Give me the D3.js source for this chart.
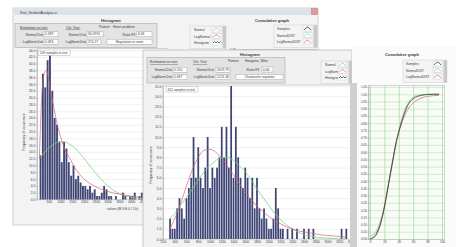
<!DOCTYPE html>
<html><head><meta charset="utf-8">
<script src="https://cdn.jsdelivr.net/npm/d3@7"></script>
<style>html,body{margin:0;padding:0;background:#fff}svg{display:block}</style>
</head><body><svg id="c" width="456" height="247"></svg>
<script>
// ---------- DATA ----------
// Window 1 histogram (bin starts, counts)
const hist1Start = d3.range(100, 4500, 100);
const hist1Count = [13,37,33,41,43,32,24,22,17,11,17,15,11,7,10,6,7,5,4,4,3,4,2,3,1,1,2,4,3,1,1,0,1,0,0,2,1,0,1,1,2,0,1,2];
const hist1Width = 100;
const normal1X = [100,300,500,700,900,1100,1300,1500,1700,1900,2100,2300,2500,2700,2900,3100,3300,3500,3700,3900,4100,4300,4500];
const normal1Y = [12.1,13.7,15.2,16.2,16.9,17.0,16.6,15.7,14.5,12.9,11.2,9.4,7.7,6.1,4.7,3.5,2.5,1.8,1.2,0.8,0.5,0.3,0.2];
const logn1X = [100,200,300,400,500,600,700,800,900,1000,1200,1400,1600,1800,2000,2300,2600,2900,3200,3500,3800,4100,4500];
const logn1Y = [12,30,37,38,35,31,27.5,24,21,18.5,14.5,12,9.5,7.5,6,4.5,3.4,2.6,2,1.6,1.2,0.9,0.6];
const y1Ticks = d3.range(0, 45, 2);
const x1Ticks = [500,1000,1500,2000,2500,3000,3500,4000,4500];

// Window 2 histogram
const hist2Start = d3.range(300, 3340, 40);
const hist2Count = [2,1,1,3,4,3,2,4,5,6, 10,6,9,6,5,7,10,5,7,6, 7,8,11,8,11,7,15,6,11,8, 6,5,7,6,4,6,3,6,3,2, 3,2,1,1,2,5,3,1,1,0, 1,0,1,0,1,0,0,1,0,1, 0,1,0,0,0,0,0,0,0,0, 0,0,0,1,0,1];
const hist2Width = 40;
const curve2X = d3.range(300, 3400, 100);
const normal2Y = [1.9,2.5,3.3,4.1,4.9,5.8,6.6,7.2,7.7,8.0,8.0,7.7,7.2,6.6,5.8,4.9,4.1,3.3,2.5,1.9,1.4,1.0,0.7,0.4,0.3,0.2,0.1,0.1,0.05,0,0];
const logn2Y = [0.8,2.0,3.5,5.2,6.8,8.0,8.7,8.8,8.5,7.9,7.1,6.3,5.4,4.6,3.9,3.2,2.7,2.2,1.8,1.5,1.2,1.0,0.8,0.7,0.6,0.5,0.4,0.35,0.3,0.25,0.2];
const y2Ticks = d3.range(0, 16, 1);
const x2Ticks = d3.range(200, 3600, 200);

// Window 3 cumulative graph
const cumX = [0,4,8,12,16,20,24,28,32,36,40,44,48,52,56,60,66,72,80,88,96];
const samplesY = [0,0.01,0.03,0.07,0.13,0.22,0.33,0.44,0.55,0.66,0.74,0.81,0.87,0.92,0.95,0.97,0.985,0.993,0.998,1.0,1.0];
const normalCumY = [0.02,0.03,0.05,0.09,0.15,0.23,0.33,0.44,0.55,0.65,0.75,0.83,0.89,0.93,0.96,0.98,0.993,0.998,1.0,1.0,1.0];
const lognCumY = [0,0.005,0.02,0.06,0.13,0.22,0.33,0.45,0.56,0.66,0.74,0.80,0.85,0.89,0.92,0.94,0.96,0.975,0.985,0.99,0.993];
const y3Ticks = d3.range(0, 22).map(i => i * 0.05);
const x3Ticks = [0,20,40,60,80,100];

// ---------- HELPERS ----------
const FONT = "'Liberation Sans', Arial, sans-serif";
const svg = d3.select("#c");
const BAR = "#3f4575", GREEN = "#7fd27f", RED = "#d0607a", TXT = "#3a3a3a";
svg.append("rect").attr("width",456).attr("height",247).attr("fill","#fff");

function text(g, x, y, s, o = {}) {
  const t = g.append("text").attr("x", x).attr("y", y).text(s)
    .attr("font-family", FONT).attr("font-size", o.size || 3.6)
    .attr("fill", o.fill || TXT).attr("text-anchor", o.anchor || "start");
  if (o.bold) t.attr("font-weight", "bold");
  if (o.underline) t.attr("text-decoration", "underline");
  if (o.rotate) t.attr("transform", `rotate(-90,${x},${y})`);
  return t;
}
function rect(g, x, y, w, h, fill, stroke, sw) {
  return g.append("rect").attr("x", x).attr("y", y).attr("width", w).attr("height", h)
    .attr("fill", fill).attr("stroke", stroke || "none").attr("stroke-width", sw || 0.5);
}
function field(g, x, y, w, h, val) {
  rect(g, x, y, w, h, "#fff", "#9a9a9a", 0.4);
  text(g, x + 1, y + h - 1.4, val, { size: 3.3 });
}
function legend(g, x, y, w, items, textX) {
  const h = items.length * 6.5 + 3;
  rect(g, x, y, w, h, "#f4f4f4", "#c4c4c4", 0.4);
  rect(g, x + w - 3.5, y, 3.5, h, "#c8c8c8");
  items.forEach((it, i) => {
    const yy = y + 5 + i * 6.5;
    text(g, textX, yy, it.label, { size: 3.3 });
    const ix = x + w - 14, iy = yy - 4;
    rect(g, ix, iy, 9, 5, "#fff", "#b0b0b0", 0.3);
    const p = it.wave ? `M${ix+1},${iy+3} l1.5,-1.5 l1.5,1.5 l1.5,-1.5 l1.5,1.5 l1.5,-1.5`
                      : `M${ix+1},${iy+4} Q${ix+4.5},${iy-1.5} ${ix+8},${iy+4}`;
    g.append("path").attr("d", p).attr("fill", "none").attr("stroke", it.color).attr("stroke-width", 0.7);
  });
}
function styleAxis(a, size) {
  a.selectAll("text").attr("font-family", FONT).attr("font-size", size || 3.3).attr("fill", TXT);
  a.selectAll("path").attr("stroke", "#888").attr("stroke-width", 0.4);
  a.selectAll("line").attr("stroke", "#888").attr("stroke-width", 0.4);
}

// ---------- WINDOW 1 ----------
const w1 = svg.append("g");
rect(w1, 13, 8, 305, 217, "#f3f3f3", "#b4b4b4", 0.6);
rect(w1, 13, 8, 305, 7, "#dce1ea");
text(w1, 20, 13.5, "Stat_VerdeelAnalyse.vi", { size: 3.6 });
rect(w1, 311.5, 8.5, 6, 6, "#e39a9a", "#c06060", 0.4);
text(w1, 111, 22, "Histogram", { size: 4, bold: true, anchor: "middle" });
rect(w1, 15, 23.5, 142, 24, "#e3e3e3", "#9c9c9c", 0.5);
text(w1, 20, 28.5, "Estimation on test:", { size: 3.4, underline: true });
text(w1, 66, 28.5, "Chi² Test:", { size: 3.4, underline: true });
text(w1, 99, 27.5, "Patient", { size: 3.4 });
text(w1, 113, 27.5, "Heart problem", { size: 3.4 });
text(w1, 43, 35.5, "Normal Dist", { size: 3.3, anchor: "end" });
field(w1, 44, 31.8, 14, 5, "0.189");
text(w1, 43, 42.8, "LogNorm Dist", { size: 3.3, anchor: "end" });
field(w1, 44, 39.2, 14, 5, "0.494");
text(w1, 86, 35.5, "Normal Dist", { size: 3.3, anchor: "end" });
field(w1, 87, 31.8, 16, 5, "30.0974");
text(w1, 86, 42.8, "LogNorm Dist", { size: 3.3, anchor: "end" });
field(w1, 87, 39.2, 14, 5, "274.17");
text(w1, 135, 35.5, "Ratio F3", { size: 3.3, anchor: "end" });
field(w1, 137, 31.8, 15, 5, "6.66");
rect(w1, 107, 39.2, 45, 5, "#fff", "#9a9a9a", 0.4);
text(w1, 129.5, 42.8, "Regulation in norm", { size: 3.3, anchor: "middle" });
legend(w1, 190, 26, 36, [
  { label: "Normal", color: GREEN }, { label: "LogNormal", color: RED }, { label: "Histogram", color: "#222", wave: true }], 194);
text(w1, 272, 22, "Cumulative graph", { size: 4, bold: true, anchor: "middle" });
legend(w1, 274, 25, 43, [
  { label: "Samples", color: "#222" }, { label: "NormalDIST", color: GREEN }, { label: "LogNormalDIST", color: RED }], 277);
text(w1, 236, 50.5, "1.05", { size: 3.2, anchor: "end" });
w1.append("line").attr("x1", 237).attr("x2", 316).attr("y1", 49.5).attr("y2", 49.5).attr("stroke", "#999").attr("stroke-width", 0.4);

// plot 1
const x1 = d3.scaleLinear().domain([0, 4500]).range([37, 143]);
const y1 = d3.scaleLinear().domain([0, 44]).range([199.5, 50]);
rect(w1, 37, 48.5, 130, 151, "#fff", "#9a9a9a", 0.4);
w1.append("g").attr("transform", "translate(37,0)")
  .call(d3.axisLeft(y1).tickValues(y1Ticks).tickSize(-130).tickFormat(""))
  .call(a => { a.select(".domain").remove(); a.selectAll("line").attr("stroke", "#dadada").attr("stroke-width", 0.4); });
w1.append("g").selectAll("rect").data(hist1Start).join("rect")
  .attr("x", d => x1(d) + 0.25).attr("width", d => x1(d + hist1Width) - x1(d) - 0.5)
  .attr("y", (d, i) => y1(hist1Count[i])).attr("height", (d, i) => y1(0) - y1(hist1Count[i]))
  .attr("fill", BAR);
const line1 = d3.line().x(d => x1(d[0])).y(d => y1(d[1])).curve(d3.curveMonotoneX);
w1.append("path").attr("d", line1(d3.zip(normal1X, normal1Y))).attr("fill", "none").attr("stroke", GREEN).attr("stroke-width", 0.8);
w1.append("path").attr("d", line1(d3.zip(logn1X, logn1Y))).attr("fill", "none").attr("stroke", RED).attr("stroke-width", 0.7);
const ay1 = w1.append("g").attr("transform", "translate(37,0)")
  .call(d3.axisLeft(y1).tickValues(y1Ticks).tickSize(1).tickPadding(0.8).tickFormat(d3.format(".1f")));
styleAxis(ay1, 3.2);
const ax1 = w1.append("g").attr("transform", "translate(0,199.5)")
  .call(d3.axisBottom(x1).tickValues(x1Ticks).tickSize(1).tickPadding(0.6).tickFormat(d3.format("d")));
styleAxis(ax1, 3.2); ax1.select(".domain").remove();
text(w1, 107, 209.5, "values (M 0.E-0 / 1/s)", { size: 3.3 });
text(w1, 25, 132, "Frequency of occurrence", { size: 3.4, anchor: "middle", rotate: true });
rect(w1, 38.5, 50, 32, 5.5, "#fff", "#a0a0a0", 0.4);
text(w1, 40, 54.2, "509 samples in test", { size: 3.2 });

// ---------- WINDOW 2 ----------
const w2 = svg.append("g");
rect(w2, 143, 50, 209, 200, "#f2f2f2", "#a8a8a8", 0.6);
text(w2, 250, 55.5, "Histogram", { size: 4, bold: true, anchor: "middle" });
rect(w2, 147, 57.5, 138, 25.5, "#e3e3e3", "#9c9c9c", 0.5);
text(w2, 150, 63, "Estimation on test:", { size: 3.4, underline: true });
text(w2, 193, 63, "Chi² Test:", { size: 3.4, underline: true });
text(w2, 228, 62, "Patient", { size: 3.4 });
text(w2, 245, 62, "Hoogstra, Mike", { size: 3.4 });
text(w2, 172, 70.8, "Normal Dist", { size: 3.3, anchor: "end" });
field(w2, 173, 67.2, 14, 5, "0.250");
text(w2, 172, 78, "LogNorm Dist", { size: 3.3, anchor: "end" });
field(w2, 173, 74.5, 14, 5, "0.087");
text(w2, 214, 70.8, "Normal Dist", { size: 3.3, anchor: "end" });
field(w2, 216, 67.2, 14, 5, "1629.79");
text(w2, 214, 78, "LogNorm Dist", { size: 3.3, anchor: "end" });
field(w2, 216, 74.5, 14, 5, "1221.36");
text(w2, 259, 70.5, "Ratio F3", { size: 3.3, anchor: "end" });
field(w2, 262, 67, 11, 5, "0.66");
rect(w2, 236, 74.5, 47, 5, "#fff", "#9a9a9a", 0.4);
text(w2, 259.5, 78.1, "Chaotische regulatie", { size: 3.3, anchor: "middle" });
legend(w2, 321, 61, 31, [
  { label: "Normal", color: GREEN }, { label: "LogNormal", color: RED }, { label: "Histogram", color: "#222", wave: true }], 325);

const x2 = d3.scaleLinear().domain([200, 3400]).range([163, 351]);
const y2 = d3.scaleLinear().domain([0, 15]).range([239, 86]);
rect(w2, 163, 85, 190, 154, "#fff", "#9a9a9a", 0.4);
w2.append("g").attr("transform", "translate(163,0)")
  .call(d3.axisLeft(y2).tickValues(y2Ticks).tickSize(-190).tickFormat(""))
  .call(a => { a.select(".domain").remove(); a.selectAll("line").attr("stroke", "#dadada").attr("stroke-width", 0.4); });
w2.append("g").selectAll("rect").data(hist2Start).join("rect")
  .attr("x", d => x2(d) + 0.3).attr("width", d => x2(d + hist2Width) - x2(d) - 0.6)
  .attr("y", (d, i) => y2(hist2Count[i])).attr("height", (d, i) => y2(0) - y2(hist2Count[i]))
  .attr("fill", BAR);
const line2 = d3.line().x(d => x2(d[0])).y(d => y2(d[1])).curve(d3.curveMonotoneX);
w2.append("path").attr("d", line2(d3.zip(curve2X, normal2Y))).attr("fill", "none").attr("stroke", GREEN).attr("stroke-width", 0.8);
w2.append("path").attr("d", line2(d3.zip(curve2X, logn2Y))).attr("fill", "none").attr("stroke", RED).attr("stroke-width", 0.7);
const ay2 = w2.append("g").attr("transform", "translate(163,0)")
  .call(d3.axisLeft(y2).tickValues(y2Ticks).tickSize(1).tickPadding(0.8).tickFormat(d3.format(".1f")));
styleAxis(ay2, 3.2);
const ax2 = w2.append("g").attr("transform", "translate(0,239)")
  .call(d3.axisBottom(x2).tickValues(x2Ticks).tickSize(1).tickPadding(0.8).tickFormat(d3.format("d")));
styleAxis(ax2, 3.2); ax2.select(".domain").remove();
text(w2, 152, 165, "Frequency of occurrence", { size: 3.4, anchor: "middle", rotate: true });
rect(w2, 166, 86.5, 32, 5.5, "#fff", "#a0a0a0", 0.4);
text(w2, 167.5, 90.7, "312 samples in test", { size: 3.2 });

// ---------- WINDOW 3 ----------
const w3 = svg.append("g");
rect(w3, 352, 46, 104, 201, "#fbfbfb");
rect(w3, 350, 83, 7, 164, "#cfcfcf");
text(w3, 402, 55.5, "Cumulative graph", { size: 4, bold: true, anchor: "middle" });
legend(w3, 403, 60, 44, [
  { label: "Samples", color: "#222" }, { label: "NormalDIST", color: GREEN }, { label: "LogNormalDIST", color: RED }], 406);
const x3 = d3.scaleLinear().domain([0, 100]).range([370, 442]);
const y3 = d3.scaleLinear().domain([0, 1.05]).range([239, 87]);
rect(w3, 368.5, 85.5, 76, 154, "#f7fcf5", "#9a9a9a", 0.4);
w3.append("g").attr("transform", "translate(368.5,0)")
  .call(d3.axisLeft(y3).tickValues(y3Ticks).tickSize(-76).tickFormat(""))
  .call(a => { a.select(".domain").remove(); a.selectAll("line").attr("stroke", "#a9c9a9").attr("stroke-width", 0.4); });
w3.append("g").attr("transform", "translate(0,239.5)")
  .call(d3.axisBottom(x3).tickValues(x3Ticks).tickSize(-154).tickFormat(""))
  .call(a => { a.select(".domain").remove(); a.selectAll("line").attr("stroke", "#7fcf7f").attr("stroke-width", 0.5); });
const line3 = d3.line().x(d => x3(d[0])).y(d => y3(d[1])).curve(d3.curveMonotoneX);
w3.append("path").attr("d", line3(d3.zip(cumX, normalCumY))).attr("fill", "none").attr("stroke", GREEN).attr("stroke-width", 0.8);
w3.append("path").attr("d", line3(d3.zip(cumX, lognCumY))).attr("fill", "none").attr("stroke", RED).attr("stroke-width", 0.7);
w3.append("path").attr("d", line3(d3.zip(cumX, samplesY))).attr("fill", "none").attr("stroke", "#333").attr("stroke-width", 0.8);
const ay3 = w3.append("g").attr("transform", "translate(368.5,0)")
  .call(d3.axisLeft(y3).tickValues(y3Ticks).tickSize(1).tickPadding(0.6).tickFormat(d3.format(".2f")));
styleAxis(ay3, 3);
const ax3 = w3.append("g").attr("transform", "translate(0,239.5)")
  .call(d3.axisBottom(x3).tickValues(x3Ticks).tickSize(1).tickPadding(0.6).tickFormat(d3.format("d")));
styleAxis(ax3, 3); ax3.select(".domain").remove();
</script></body></html>
